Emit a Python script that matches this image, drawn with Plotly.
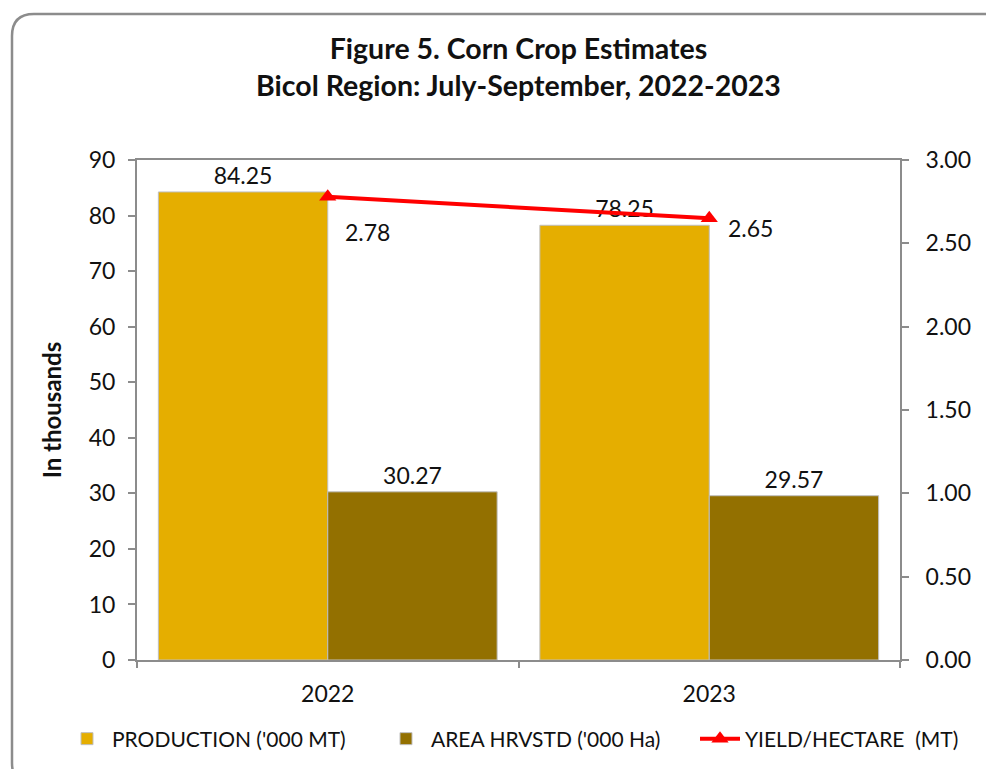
import plotly.graph_objects as go

years = ["2022", "2023"]
production = [84.25, 78.25]
area = [30.27, 29.57]
yield_ha = [2.78, 2.65]
left_ticks = [0, 10, 20, 30, 40, 50, 60, 70, 80, 90]
right_ticks = [0.0, 0.5, 1.0, 1.5, 2.0, 2.5, 3.0]

# style: label offsets (px) for the yield labels
yield_label_shift = [(40, -35), (41, -10)]

OFF = 8  # browser body margin
W, H = 994 - OFF, 769 - OFF
L, R, T, B = 137 - OFF, 900 - OFF, 160 - OFF, 660 - OFF
FONT = "Lato"


def px(x):
    return (x - OFF - L) / (R - L)


def py(y):
    return (B - (y - OFF)) / (B - T)


fig = go.Figure()
fig.add_trace(go.Bar(
    x=years, y=production, name="PRODUCTION ('000 MT)", legend="legend",
    marker=dict(color="#E5AE00", line=dict(color="#BFBFBF", width=1)),
    text=[f"{v:.2f}" for v in production], textposition="outside",
    textfont=dict(size=23, color="#111111", family=FONT), cliponaxis=False,
))
fig.add_trace(go.Bar(
    x=years, y=area, name="AREA HRVSTD ('000 Ha)", legend="legend2",
    marker=dict(color="#937000", line=dict(color="#BFBFBF", width=1)),
    text=[f"{v:.2f}" for v in area], textposition="outside",
    textfont=dict(size=23, color="#111111", family=FONT), cliponaxis=False,
))
fig.add_trace(go.Scatter(
    x=years, y=yield_ha, name="YIELD/HECTARE  (MT)", yaxis="y2", legend="legend3",
    mode="lines+markers",
    line=dict(color="#FF0000", width=4),
    marker=dict(symbol="triangle-up", size=15, color="#FF0000"),
    cliponaxis=False,
))

for i, (v, (dx, dy)) in enumerate(zip(yield_ha, yield_label_shift)):
    fig.add_annotation(x=i, xref="x", y=v, yref="y2", text=f"{v:.2f}", showarrow=False,
                       xshift=dx, yshift=dy,
                       font=dict(size=23, color="#111111", family=FONT))

# outer rounded border
x0, y0, x1, y1, r = 12, 14, 1010, 785, 22
rx = r / (R - L)
ry = r / (B - T)
path = (f"M {px(x0)},{py(y0) - ry} Q {px(x0)},{py(y0)} {px(x0) + rx},{py(y0)} "
        f"L {px(x1) - rx},{py(y0)} Q {px(x1)},{py(y0)} {px(x1)},{py(y0) - ry} "
        f"L {px(x1)},{py(y1) + ry} Q {px(x1)},{py(y1)} {px(x1) - rx},{py(y1)} "
        f"L {px(x0) + rx},{py(y1)} Q {px(x0)},{py(y1)} {px(x0)},{py(y1) + ry} Z")
fig.add_shape(type="path", xref="paper", yref="paper", path=path,
              line=dict(color="#8C8C8C", width=2.5), layer="below")


def legend_at(xpix):
    return dict(orientation="h", xref="paper", yref="paper",
                x=px(xpix), xanchor="left", y=py(739), yanchor="middle",
                font=dict(size=21, family=FONT, color="#111111"),
                itemwidth=40, bgcolor="rgba(0,0,0,0)")


fig.update_layout(
    width=W, height=H,
    margin=dict(l=L, r=W - R, t=T, b=H - B, pad=0, autoexpand=False),
    paper_bgcolor="white", plot_bgcolor="white",
    font=dict(family=FONT, color="#111111", size=23),
    title=dict(text="<b>Figure 5. Corn Crop Estimates<br>Bicol Region: July-September, 2022-2023</b>",
               x=0.5, xref="paper", xanchor="center", y=1 - (59 - OFF) / H, yanchor="middle",
               font=dict(size=28.5, family=FONT, color="#111111")),
    barmode="group", bargap=0.112, bargroupgap=0,
    showlegend=True,
    legend=legend_at(62),
    legend2=legend_at(381),
    legend3=legend_at(695),
    xaxis=dict(type="category", range=[-0.5, 1.5], autorange=False,
               showline=True, linecolor="#8C8C8C", linewidth=2, mirror=True,
               ticks="outside", tickson="boundaries", ticklen=6, tickcolor="#8C8C8C",
               tickwidth=2, tickfont=dict(size=23), showgrid=False, tickangle=0,
               ticklabelstandoff=12),
    yaxis=dict(range=[0, 90], tickvals=left_ticks, showline=True, linecolor="#8C8C8C",
               linewidth=2, mirror=True, ticks="outside", ticklen=7, tickcolor="#8C8C8C",
               tickwidth=2, showgrid=False, zeroline=False, tickfont=dict(size=23),
               ticklabelstandoff=8,
               title=dict(text="<b>In thousands</b>", font=dict(size=24), standoff=20)),
    yaxis2=dict(range=[0, 3], tickvals=right_ticks, tickformat=".2f", overlaying="y",
                side="right", showline=True, linecolor="#8C8C8C", linewidth=2,
                ticks="outside", ticklen=7, tickcolor="#8C8C8C", tickwidth=2,
                ticklabelstandoff=12,
                showgrid=False, zeroline=False, tickfont=dict(size=23)),
)

fig.write_html("out.html")
